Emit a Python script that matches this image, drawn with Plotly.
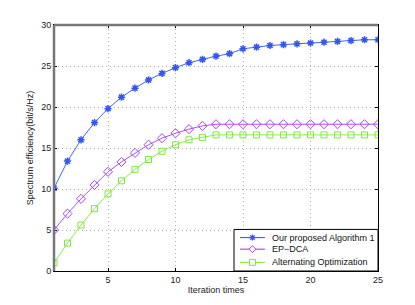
import plotly.graph_objects as go

iterations = list(range(1, 26))
alg1 = [10.1, 13.4, 16.0, 18.1, 19.8, 21.2, 22.3, 23.3, 24.1, 24.8, 25.4, 25.8,
        26.2, 26.5, 27.1, 27.3, 27.5, 27.6, 27.7, 27.8, 27.9, 28.0, 28.1, 28.2, 28.2]
epdca = [5.0, 7.0, 8.8, 10.5, 12.1, 13.3, 14.4, 15.4, 16.2, 16.8, 17.3, 17.7,
         17.9, 17.9, 17.9, 17.9, 17.9, 17.9, 17.9, 17.9, 17.9, 17.9, 17.9, 17.9, 17.9]
altopt = [1.0, 3.4, 5.6, 7.6, 9.4, 11.0, 12.4, 13.6, 14.6, 15.4, 16.0, 16.3,
          16.6, 16.6, 16.6, 16.6, 16.6, 16.6, 16.6, 16.6, 16.6, 16.6, 16.6, 16.6, 16.6]
names = ["Our proposed Algorithm 1", "EP\u2212DCA", "Alternating Optimization"]
xticks = [5, 10, 15, 20, 25]
yticks = [0, 5, 10, 15, 20, 25, 30]

line_colors = ["#4466f5", "#b050f0", "#88ee44"]
marker_colors = ["#3355f0", "#a845f0", "#80e840"]

fig = go.Figure()
fig.add_trace(go.Scatter(x=iterations, y=alg1, name=names[0], mode="lines+markers",
                         line=dict(color=line_colors[0], width=1),
                         marker=dict(symbol="asterisk-open", size=6, color=marker_colors[0],
                                     line=dict(width=1.5, color=marker_colors[0]))))
fig.add_trace(go.Scatter(x=iterations, y=epdca, name=names[1], mode="lines+markers",
                         line=dict(color=line_colors[1], width=1),
                         marker=dict(symbol="diamond-open", size=7, color=marker_colors[1],
                                     line=dict(width=1, color=marker_colors[1]))))
fig.add_trace(go.Scatter(x=iterations, y=altopt, name=names[2], mode="lines+markers",
                         line=dict(color=line_colors[2], width=1),
                         marker=dict(symbol="square-open", size=6, color=marker_colors[2],
                                     line=dict(width=1, color=marker_colors[2]))))

# ---- custom compact legend (paper coordinates) ----
shapes = [
    dict(type="line", xref="paper", yref="paper", x0=0, x1=0, y0=0, y1=1,
         line=dict(color="#777777", width=2.5), layer="above"),
    dict(type="line", xref="paper", yref="paper", x0=0, x1=1, y0=1, y1=1,
         line=dict(color="#777777", width=2.5), layer="above"),
    dict(type="rect", xref="paper", yref="paper", x0=0.5556, x1=1.0, y0=0.0, y1=0.169,
         line=dict(color="black", width=1), fillcolor="white", layer="above"),
]
annotations = []
row_y = [0.136, 0.0887, 0.035]
lx0, lx1, mx, tx = 0.574, 0.651, 0.6125, 0.667
for i in range(3):
    shapes.append(dict(type="line", xref="paper", yref="paper", x0=lx0, x1=lx1,
                       y0=row_y[i], y1=row_y[i],
                       line=dict(color=line_colors[i], width=1.2), layer="above"))
    common = dict(xref="paper", yref="paper", xsizemode="pixel", ysizemode="pixel",
                  xanchor=mx, yanchor=row_y[i], layer="above")
    if i == 0:
        for (a, b, c, d) in [(-3, 0, 3, 0), (0, -3, 0, 3), (-2.2, -2.2, 2.2, 2.2), (-2.2, 2.2, 2.2, -2.2)]:
            shapes.append(dict(type="line", x0=a, y0=b, x1=c, y1=d,
                               line=dict(color=marker_colors[0], width=1.3), **common))
    elif i == 1:
        shapes.append(dict(type="path", path="M -3.5 0 L 0 3.5 L 3.5 0 L 0 -3.5 Z",
                           line=dict(color=marker_colors[1], width=1), fillcolor="white", **common))
    else:
        shapes.append(dict(type="rect", x0=-3, x1=3, y0=-3, y1=3,
                           line=dict(color=marker_colors[2], width=1), fillcolor="white", **common))
    annotations.append(dict(xref="paper", yref="paper", x=tx, y=row_y[i], text=names[i],
                            showarrow=False, xanchor="left", yanchor="middle",
                            font=dict(size=9, color="#111111")))

fig.update_layout(
    width=407, height=297,
    margin=dict(l=46, r=37, t=16, b=33),
    paper_bgcolor="white", plot_bgcolor="white",
    font=dict(family="Liberation Sans, Arial, sans-serif", size=9, color="#222222"),
    showlegend=False,
    xaxis=dict(range=[1, 25], tickvals=xticks, showgrid=True, gridcolor="#b0b0b0",
               griddash="1px,3px", gridwidth=1, zeroline=False, showline=True,
               linecolor="black", linewidth=1, mirror="ticks", ticks="inside",
               ticklen=3, tickcolor="black",
               title=dict(text="Iteration times", font=dict(size=9), standoff=2)),
    yaxis=dict(range=[0, 30], tickvals=yticks, showgrid=True, gridcolor="#b0b0b0",
               griddash="1px,3px", gridwidth=1, zeroline=False, showline=True,
               linecolor="black", linewidth=1, mirror="ticks", ticks="inside",
               ticklen=3, tickcolor="black",
               title=dict(text="Spectrum efficiency(bit/s/Hz)", font=dict(size=9), standoff=6)),
    shapes=shapes,
    annotations=annotations,
)

fig.write_html("out.html")
